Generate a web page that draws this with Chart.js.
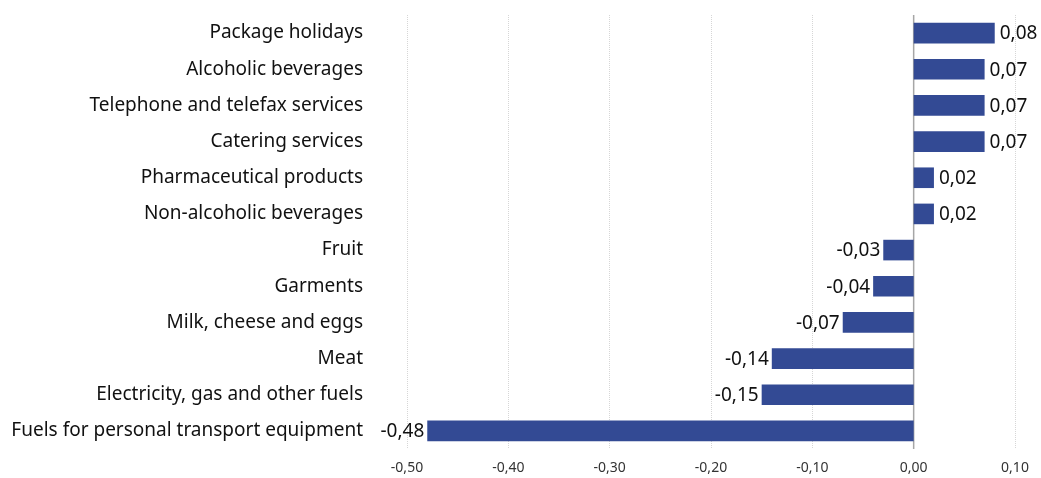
<!DOCTYPE html>
<html>
<head>
<meta charset="utf-8">
<script src="https://cdn.jsdelivr.net/npm/chart.js@4"></script>
<style>
  body { margin: 0; background: #fff; }
  #wrap { width: 1041px; height: 478px; }
</style>
</head>
<body>
<div id="wrap"><canvas id="barChart" width="1041" height="478"></canvas></div>
<script>
const categories = [
  "Package holidays",
  "Alcoholic beverages",
  "Telephone and telefax services",
  "Catering services",
  "Pharmaceutical products",
  "Non-alcoholic beverages",
  "Fruit",
  "Garments",
  "Milk, cheese and eggs",
  "Meat",
  "Electricity, gas and other fuels",
  "Fuels for personal transport equipment"
];
const values = [0.08, 0.07, 0.07, 0.07, 0.02, 0.02, -0.03, -0.04, -0.07, -0.14, -0.15, -0.48];
const xMin = -0.5, xMax = 0.1, xStep = 0.1;

const fmt = v => (Math.abs(v) < 1e-9 ? 0 : v).toFixed(2).replace(".", ",");

// zero line + value labels next to bar ends
const valueLabels = {
  id: "valueLabels",
  beforeDatasetsDraw(chart) {
    const x0 = chart.scales.x.getPixelForValue(0);
    const area = chart.chartArea;
    const ctx = chart.ctx;
    ctx.save();
    ctx.strokeStyle = "#a6a6a6";
    ctx.lineWidth = 1.5;
    ctx.beginPath();
    ctx.moveTo(x0, area.top);
    ctx.lineTo(x0, area.bottom);
    ctx.stroke();
    ctx.restore();
  },
  afterDatasetsDraw(chart) {
    const ctx = chart.ctx;
    const meta = chart.getDatasetMeta(0);
    ctx.save();
    ctx.font = "19px 'Noto Sans'";
    ctx.fillStyle = "#111";
    ctx.textBaseline = "middle";
    meta.data.forEach((bar, i) => {
      const v = values[i];
      if (v >= 0) {
        ctx.textAlign = "left";
        ctx.fillText(fmt(v), bar.x + 5, bar.y + 1);
      } else {
        ctx.textAlign = "right";
        ctx.fillText(fmt(v), bar.x - 3, bar.y + 1);
      }
    });
    ctx.restore();
  }
};

new Chart(document.getElementById("barChart"), {
  type: "bar",
  data: {
    labels: categories,
    datasets: [{
      data: values,
      backgroundColor: "#334a94",
      borderWidth: 0,
      barPercentage: 0.57,
      categoryPercentage: 1
    }]
  },
  options: {
    indexAxis: "y",
    responsive: false,
    animation: false,
    layout: { padding: { top: 15, right: 26, left: 0, bottom: 0 } },
    plugins: { legend: { display: false }, tooltip: { enabled: false } },
    scales: {
      x: {
        min: xMin,
        max: xMax,
        ticks: {
          stepSize: xStep,
          color: "#333",
          font: { family: "'Noto Sans'", size: 14 },
          padding: 11,
          callback: v => fmt(v)
        },
        border: { display: false, dash: [1, 1] },
        grid: { drawTicks: false, color: "#d6d6d6", lineWidth: 1 },
        afterFit: s => { s.height = 29; }
      },
      y: {
        ticks: {
          color: "#111",
          font: { family: "'Noto Sans'", size: 19 },
          padding: 2,
          autoSkip: false
        },
        border: { display: false },
        grid: { display: false, drawTicks: true, tickLength: 42 },
        afterFit: s => { s.width = 407; }
      }
    }
  },
  plugins: [valueLabels]
});
</script>
</body>
</html>
